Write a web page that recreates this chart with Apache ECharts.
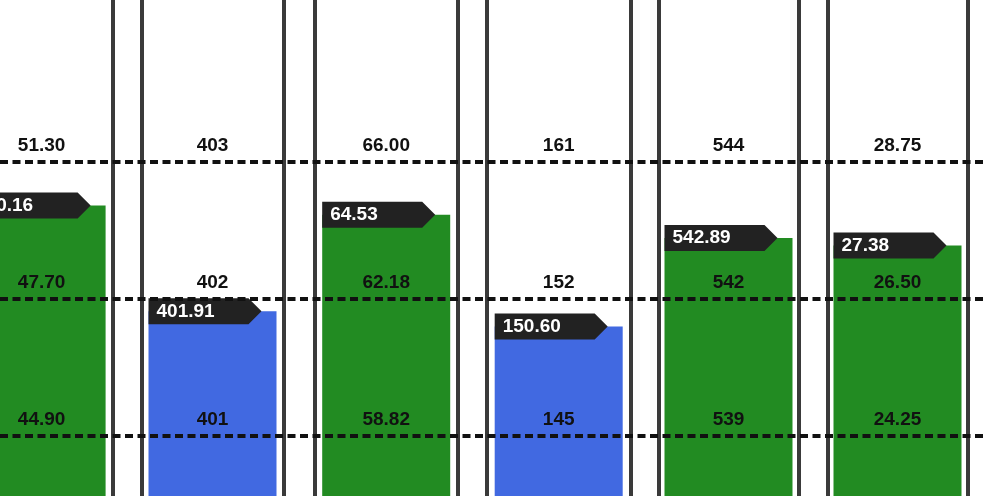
<!DOCTYPE html>
<html lang="en">

<head>
    <meta charset="UTF-8">
    <title>Levels</title>
    <script type="text/javascript" src="https://cdn.jsdelivr.net/npm/echarts@6/dist/echarts.min.js"></script>
    <style>
        html, body { margin: 0; padding: 0; background: #fff; }
    </style>
</head>

<body>
    <div id="main" style="width:983px;height:496px;"></div>
</body>
<script type="text/javascript">

    // values, one entry per column
    var highLevels = ['51.30', '403', '66.00', '161', '544', '28.75'];
    var midLevels = ['47.70', '402', '62.18', '152', '542', '26.50'];
    var lowLevels = ['44.90', '401', '58.82', '145', '539', '24.25'];
    var lastValues = [50.16, 401.91, 64.53, 150.60, 542.89, 27.38];

    // layout of the panels (border centres, px)
    var panelLeft = [-29.5, 141.7, 314.7, 486.7, 658.7, 827.7];
    var panelRight = [112.7, 283.3, 457.7, 630.7, 798.3, 967.3];

    // every panel shares one band scale: low line = 1, mid = 2, high = 3
    var levelPos = [1, 2, 3];
    // low line sits 436px down, lines are 137px apart, chart is 496px tall
    var bandMin = 1 - (496 - 436) / 137;
    var bandMax = 1 + 436 / 137;

    function toBand(v, i) {
        var lo = parseFloat(lowLevels[i]), mid = parseFloat(midLevels[i]), hi = parseFloat(highLevels[i]);
        if (v <= mid) {
            return levelPos[0] + (v - lo) / (mid - lo);
        }
        return levelPos[1] + (v - mid) / (hi - mid);
    }

    var myChart = echarts.init(document.getElementById('main'));

    var border = { show: true, lineStyle: { color: '#3a3a3a', width: 4 } };

    var grids = [{ left: 0, right: 0, top: 0, bottom: 0, outerBoundsMode: 'none' }];
    var xAxes = [{ type: 'category', gridIndex: 0, data: [''], show: false }];
    var yAxes = [{ type: 'value', gridIndex: 0, min: bandMin, max: bandMax, show: false }];
    var series = [{
        type: 'line',
        xAxisIndex: 0,
        yAxisIndex: 0,
        data: [],
        silent: true,
        markLine: {
            symbol: 'none',
            silent: true,
            z: 6,
            label: { show: false },
            lineStyle: { color: '#111', width: 4, type: [8, 4.5] },
            data: levelPos.map(function (p) { return { yAxis: p }; })
        }
    }];

    for (var i = 0; i < lastValues.length; i++) {
        var g = i + 1;
        grids.push({
            left: panelLeft[i],
            width: panelRight[i] - panelLeft[i],
            top: 0,
            bottom: 0,
            outerBoundsMode: 'none'
        });
        xAxes.push({ type: 'category', gridIndex: g, data: [''], show: false });
        // left and right y axes only draw the panel borders
        var leftAxis = yAxes.length;
        yAxes.push({
            type: 'value', gridIndex: g, min: bandMin, max: bandMax, position: 'left',
            axisLine: border, axisTick: { show: false }, axisLabel: { show: false }, splitLine: { show: false }
        });
        yAxes.push({
            type: 'value', gridIndex: g, min: bandMin, max: bandMax, position: 'right',
            axisLine: border, axisTick: { show: false }, axisLabel: { show: false }, splitLine: { show: false }
        });

        var texts = [lowLevels[i], midLevels[i], highLevels[i]];
        var band = toBand(lastValues[i], i);
        var barColor = lastValues[i] >= parseFloat(midLevels[i]) ? '#228B22' : '#4169E1';

        series.push({
            type: 'bar',
            xAxisIndex: g,
            yAxisIndex: leftAxis,
            barWidth: 128,
            itemStyle: { color: barColor },
            data: [band],
            markLine: {
                symbol: 'none',
                silent: true,
                lineStyle: { color: 'transparent', width: 0 },
                label: {
                    show: true,
                    position: 'insideMiddleTop',
                    distance: 7,
                    color: '#111',
                    fontFamily: 'Liberation Sans',
                    fontWeight: 'bold',
                    fontSize: 19
                },
                data: levelPos.map(function (p, k) {
                    return { yAxis: p, label: { formatter: texts[k] } };
                })
            },
            markPoint: {
                symbol: 'path://M0,0 L100,0 L113,13 L100,26 L0,26 Z',
                symbolSize: [113, 26],
                symbolOffset: [-7.5, 0],
                silent: true,
                itemStyle: { color: '#222' },
                label: {
                    show: true,
                    position: 'insideLeft',
                    distance: 8,
                    color: '#fff',
                    fontFamily: 'Liberation Sans',
                    fontWeight: 'bold',
                    fontSize: 19
                },
                data: [{ coord: [0, band], label: { formatter: lastValues[i].toFixed(2) } }]
            }
        });
    }

    myChart.setOption({
        animation: false,
        backgroundColor: '#fff',
        grid: grids,
        xAxis: xAxes,
        yAxis: yAxes,
        series: series
    });
</script>

</html>
